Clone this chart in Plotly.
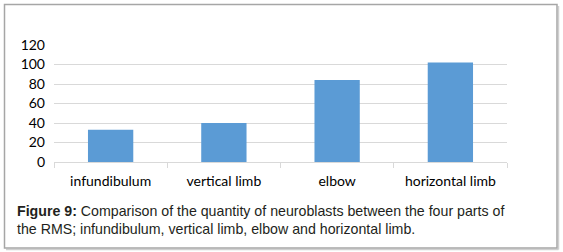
import plotly.graph_objects as go

categories = ["infundibulum", "vertical limb", "elbow", "horizontal limb"]
values = [33, 40, 84, 102]
y_ticks = [0, 20, 40, 60, 80, 100, 120]

W, H = 563, 252
L, R, T, B = 54, 56, 45, 90
pw, ph = W - L - R, H - T - B

def px(x):
    return (x - L) / pw

def py(y):
    return (H - B - y) / ph

fig = go.Figure(go.Bar(x=categories, y=values, marker_color="#5b9bd5",
                       marker_line_width=0, width=0.4))

fig.update_layout(
    width=W, height=H,
    margin=dict(l=L, r=R, t=T, b=B),
    paper_bgcolor="white", plot_bgcolor="white",
    showlegend=False,
    font=dict(family="Lato, Liberation Sans, sans-serif", color="#000"),
    xaxis=dict(showgrid=False, showline=True, linecolor="#d9d9d9", linewidth=1,
               ticks="outside", tickson="boundaries", ticklen=5, tickcolor="#d9d9d9",
               tickfont=dict(size=14, family="Lato, sans-serif"), ticklabelstandoff=6),
    yaxis=dict(range=[0, 120], tickvals=y_ticks, showgrid=True, gridcolor="#d9d9d9",
               zeroline=False, showline=False, ticks="",
               tickfont=dict(size=14, family="Lato, sans-serif"), ticklabelstandoff=8),
    shapes=[
        dict(type="line", xref="paper", yref="paper",
             x0=px(558.5), x1=px(558.5), y0=py(6), y1=py(249.5),
             line=dict(color="#d0d0d0", width=1.5), layer="below"),
        dict(type="line", xref="paper", yref="paper",
             x0=px(6), x1=px(558.5), y0=py(249.5), y1=py(249.5),
             line=dict(color="#d0d0d0", width=1.5), layer="below"),
        dict(type="rect", xref="paper", yref="paper",
             x0=px(4.5), x1=px(557), y0=py(4.5), y1=py(248),
             line=dict(color="#a6a6a6", width=1.5), layer="below"),
    ],
    annotations=[
        dict(xref="paper", yref="paper", x=px(15), y=py(201), xanchor="left", yanchor="top",
             showarrow=False, align="left",
             text="<b>Figure 9:</b> Comparison of the quantity of neuroblasts between the four parts of<br>the RMS; infundibulum, vertical limb, elbow and horizontal limb.",
             font=dict(family="Liberation Sans, Arial, sans-serif", size=14.2, color="#231f20")),
    ],
)

fig.write_html("out.html", config={"displayModeBar": False},
               post_script="document.body.style.margin='0';document.body.style.overflow='hidden';")
